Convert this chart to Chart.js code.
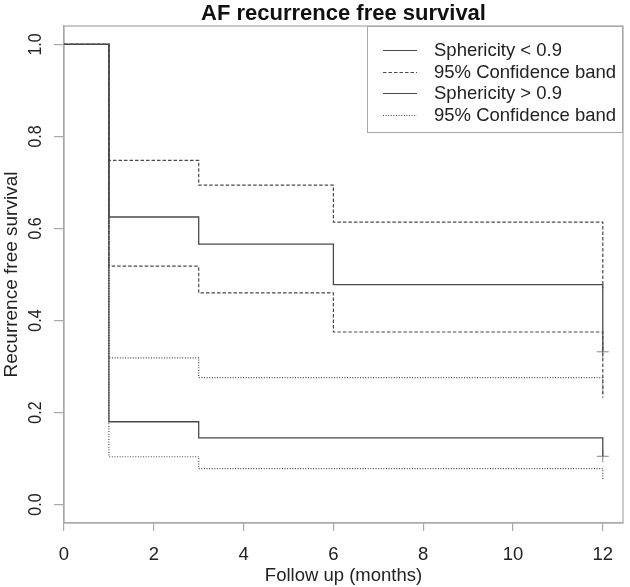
<!DOCTYPE html>
<html>
<head>
<meta charset="utf-8">
<script src="https://cdn.jsdelivr.net/npm/chart.js@4.4.1/dist/chart.umd.min.js"></script>
<style>
  html, body { margin: 0; padding: 0; background: #fff; }
  #wrap { width: 630px; height: 587px; }
</style>
</head>
<body>
<div id="wrap"><canvas id="km-chart"></canvas></div>
<script>
"use strict"

// DATA
const months = [0, 1, 3, 6, 12];
// Sphericity < 0.9
const survBelow = [1.0, 0.625, 0.566, 0.478, 0.332];
const upperBelow = [1.0, 0.748, 0.694, 0.614, 0.47];
const lowerBelow = [1.0, 0.518, 0.460, 0.375, 0.232];
// Sphericity > 0.9
const survAbove = [1.0, 0.180, 0.145, 0.145, 0.105];
const upperAbove = [1.0, 0.319, 0.276, 0.276, 0.24];
const lowerAbove = [1.0, 0.104, 0.078, 0.078, 0.055];
// censored marks
const censorMonths = [12, 12];
const censorSurv = [0.332, 0.105];

const xTicks = [0, 2, 4, 6, 8, 10, 12];
const yTicks = [0.0, 0.2, 0.4, 0.6, 0.8, 1.0];
const legendLabels = ['Sphericity < 0.9', '95% Confidence band', 'Sphericity > 0.9', '95% Confidence band'];
const chartTitle = 'AF recurrence free survival';

const LINE = '#4a4a4a';
const BOX = '#a8a8a8';
const FONT = '"Liberation Sans", Arial, Helvetica, sans-serif';
const DASH = [3.5, 2];
const DOT = [1, 1.6];

function toPoints(ys) {
  return months.map(function (m, i) { return { x: m, y: ys[i] }; });
}

function stepLine(ys, dash, width) {
  return {
    type: 'line',
    data: toPoints(ys),
    stepped: 'before',
    borderColor: LINE,
    borderWidth: width,
    borderDash: dash,
    pointRadius: 0,
    fill: false
  };
}

// legend drawn inside the plot, R style
const boxLegend = {
  id: 'boxLegend',
  afterDraw(chart) {
    const ctx = chart.ctx;
    const area = chart.chartArea;
    const w = 256, h = 107;
    const left = area.right - w, top = area.top;
    ctx.save();
    ctx.fillStyle = '#fff';
    ctx.fillRect(left, top, w, h);
    ctx.strokeStyle = BOX;
    ctx.lineWidth = 1;
    ctx.strokeRect(left + 0.5, top + 0.5, w - 1, h - 1);
    const dashes = [[], DASH, [], DOT];
    ctx.font = '18.5px ' + FONT;
    ctx.textBaseline = 'middle';
    legendLabels.forEach(function (lab, i) {
      const y = top + 24 + i * 21.5;
      ctx.strokeStyle = LINE;
      ctx.lineWidth = 1.2;
      ctx.setLineDash(dashes[i]);
      ctx.beginPath();
      ctx.moveTo(left + 16, Math.round(y) + 0.5);
      ctx.lineTo(left + 50, Math.round(y) + 0.5);
      ctx.stroke();
      ctx.setLineDash([]);
      ctx.fillStyle = '#222';
      ctx.fillText(lab, left + 67, y + 1);
    });
    ctx.restore();
  }
};

// plot box on all four sides, title over the plot, rotated y tick labels
const plotBox = {
  id: 'plotBox',
  beforeDatasetsDraw(chart) {
    const a = chart.chartArea;
    const ctx = chart.ctx;
    ctx.save();
    ctx.strokeStyle = BOX;
    ctx.lineWidth = 1.2;
    ctx.strokeRect(a.left, a.top, a.right - a.left, a.bottom - a.top);
    ctx.restore();
  },
  afterDraw(chart) {
    const a = chart.chartArea;
    const ys = chart.scales.y;
    const ctx = chart.ctx;
    ctx.save();
    ctx.fillStyle = '#111';
    ctx.font = 'bold 22px ' + FONT;
    ctx.textAlign = 'center';
    ctx.textBaseline = 'middle';
    ctx.fillText(chartTitle, (a.left + a.right) / 2, 14);

    ctx.fillStyle = '#222';
    ctx.font = '16px ' + FONT;
    yTicks.forEach(function (v) {
      ctx.save();
      ctx.translate(36, ys.getPixelForValue(v));
      ctx.scale(1.2, 1);
      ctx.rotate(-Math.PI / 2);
      ctx.fillText(v.toFixed(1), 0, 0);
      ctx.restore();
    });
    ctx.restore();
  }
};

const config = {
  data: {
    datasets: [
      stepLine(survBelow, [], 1.3),
      stepLine(survAbove, [], 1.3),
      stepLine(upperBelow, DASH, 1.2),
      stepLine(lowerBelow, DASH, 1.2),
      stepLine(upperAbove, DOT, 1.2),
      stepLine(lowerAbove, DOT, 1.2),
      {
        type: 'scatter',
        data: censorMonths.map(function (m, i) { return { x: m, y: censorSurv[i] }; }),
        pointStyle: 'cross',
        pointRadius: 6,
        borderColor: '#888',
        borderWidth: 1
      }
    ]
  },
  options: {
    responsive: true,
    maintainAspectRatio: false,
    animation: false,
    layout: { padding: { top: 26, right: 4, bottom: 0, left: 0 } },
    plugins: {
      legend: { display: false },
      tooltip: { enabled: false },
      title: { display: false }
    },
    scales: {
      x: {
        type: 'linear',
        min: 0,
        max: 12.45,
        afterBuildTicks(scale) { scale.ticks = xTicks.map(function (v) { return { value: v }; }); },
        afterFit(scale) { scale.height = 64; },
        grid: { drawOnChartArea: false, drawTicks: true, tickLength: 8, color: BOX, lineWidth: 1.2 },
        border: { display: true, color: BOX, width: 1.2 },
        ticks: { color: '#222', font: { family: FONT, size: 18.5 }, padding: 13, maxRotation: 0 },
        title: {
          display: true,
          text: 'Follow up (months)',
          color: '#222',
          font: { family: FONT, size: 18.5 },
          padding: { top: 0, bottom: 0 }
        }
      },
      y: {
        type: 'linear',
        min: -0.04,
        max: 1.04,
        afterBuildTicks(scale) { scale.ticks = yTicks.map(function (v) { return { value: v }; }); },
        afterFit(scale) { scale.width = 64; },
        grid: { drawOnChartArea: false, drawTicks: true, tickLength: 10, color: BOX, lineWidth: 1.2 },
        border: { display: true, color: BOX, width: 1.2 },
        ticks: { display: false },
        title: {
          display: true,
          text: 'Recurrence free survival',
          color: '#222',
          font: { family: FONT, size: 19 },
          padding: { top: 0, bottom: 0 }
        }
      }
    }
  },
  plugins: [plotBox, boxLegend]
};

const kmChart = new Chart(document.getElementById('km-chart'), config);
</script>
</body>
</html>
